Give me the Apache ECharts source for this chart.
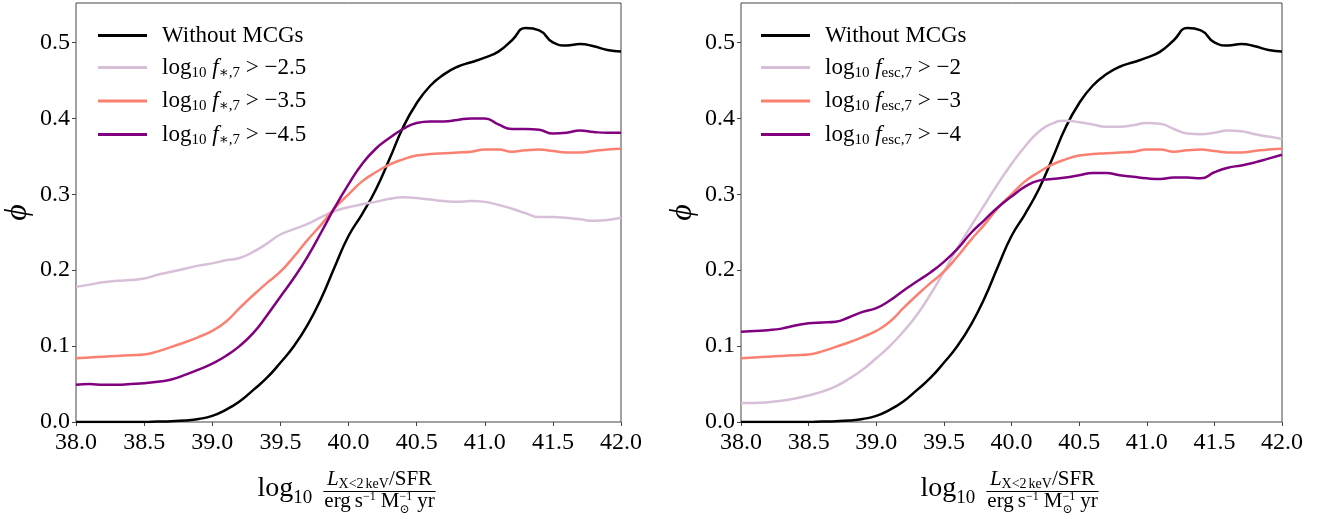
<!DOCTYPE html>
<html>
<head>
<meta charset="utf-8">
<script src="https://cdn.jsdelivr.net/npm/echarts@6/dist/echarts.min.js"></script>
<style>
  html, body { margin: 0; padding: 0; background: #fff; }
  #chart { width: 1329px; height: 520px; }
</style>
</head>
<body>
<div id="chart"></div>
<script>
// Shared x grid: log10 (L_X<2keV / SFR) in erg s^-1 Msun^-1 yr
const xs = [38.0, 38.1, 38.2, 38.3, 38.4, 38.5, 38.6, 38.7, 38.8, 38.9,
            39.0, 39.1, 39.2, 39.3, 39.4, 39.5, 39.6, 39.7, 39.8, 39.9,
            40.0, 40.1, 40.2, 40.3, 40.4, 40.5, 40.6, 40.7, 40.8, 40.9,
            41.0, 41.1, 41.2, 41.3, 41.4, 41.5, 41.6, 41.7, 41.8, 41.9, 42.0];

// Reference population without minicooling galaxies (both panels)
const withoutMCGs = [0, 0, 0, 0, 0, 0, 0.0005, 0.001, 0.002, 0.004,
  0.008, 0.016, 0.027, 0.042, 0.058, 0.078, 0.100, 0.128, 0.163, 0.205,
  0.245, 0.274, 0.306, 0.346, 0.388, 0.420, 0.443, 0.458, 0.468, 0.474,
  0.480, 0.488, 0.503, 0.519, 0.516, 0.500, 0.496, 0.498, 0.495, 0.490, 0.488];

// Left panel: cuts on log10 f_*,7
const fStarCuts = ['\u22122.5', '\u22123.5', '\u22124.5'];
const fStar25 = [0.178, 0.181, 0.184, 0.186, 0.187, 0.189, 0.194, 0.198, 0.202, 0.206,
  0.209, 0.213, 0.216, 0.224, 0.235, 0.247, 0.254, 0.261, 0.270, 0.278,
  0.283, 0.287, 0.290, 0.294, 0.296, 0.295, 0.293, 0.291, 0.290, 0.291,
  0.290, 0.286, 0.281, 0.275, 0.270, 0.270, 0.269, 0.267, 0.265, 0.266, 0.269];
const fStar35 = [0.084, 0.085, 0.086, 0.087, 0.088, 0.089, 0.093, 0.099, 0.105, 0.112,
  0.120, 0.132, 0.150, 0.167, 0.183, 0.198, 0.218, 0.240, 0.260, 0.282,
  0.300, 0.317, 0.329, 0.339, 0.346, 0.351, 0.353, 0.354, 0.355, 0.356,
  0.359, 0.359, 0.356, 0.358, 0.359, 0.357, 0.355, 0.355, 0.357, 0.359, 0.360];
const fStar45 = [0.049, 0.050, 0.049, 0.049, 0.050, 0.051, 0.053, 0.056, 0.062, 0.069,
  0.077, 0.087, 0.100, 0.117, 0.140, 0.165, 0.190, 0.218, 0.250, 0.283,
  0.313, 0.340, 0.360, 0.374, 0.386, 0.394, 0.396, 0.396, 0.398, 0.400,
  0.400, 0.392, 0.386, 0.386, 0.385, 0.380, 0.381, 0.384, 0.382, 0.381, 0.381];

// Right panel: cuts on log10 f_esc,7
const fEscCuts = ['\u22122', '\u22123', '\u22124'];
const fEsc2 = [0.025, 0.025, 0.026, 0.028, 0.031, 0.035, 0.040, 0.047, 0.057, 0.069,
  0.084, 0.100, 0.119, 0.141, 0.168, 0.198, 0.229, 0.258, 0.286, 0.314,
  0.340, 0.363, 0.382, 0.393, 0.397, 0.395, 0.392, 0.389, 0.389, 0.391,
  0.394, 0.393, 0.386, 0.380, 0.379, 0.381, 0.384, 0.383, 0.379, 0.376, 0.373];
const fEsc3 = fStar35.slice();
const fEsc4 = [0.119, 0.120, 0.121, 0.123, 0.127, 0.130, 0.131, 0.132, 0.138, 0.145,
  0.150, 0.160, 0.173, 0.185, 0.197, 0.211, 0.228, 0.249, 0.266, 0.283,
  0.297, 0.310, 0.318, 0.320, 0.322, 0.325, 0.328, 0.328, 0.325, 0.323,
  0.321, 0.320, 0.322, 0.322, 0.321, 0.329, 0.335, 0.338, 0.342, 0.347, 0.352];

const xTicks = { min: 38, max: 42, step: 0.5 };
const yTicks = { min: 0, max: 0.552, step: 0.1 };

const colors = ['#000000', '#d8bfd8', '#fa8072', '#800080'];
const SERIF = '"Liberation Serif", "DejaVu Serif", serif';

const panels = [
  { left: 76, width: 545, key: '*', cuts: fStarCuts, data: [withoutMCGs, fStar25, fStar35, fStar45], legendLeft: 98 },
  { left: 741, width: 541, key: 'esc', cuts: fEscCuts, data: [withoutMCGs, fEsc2, fEsc3, fEsc4], legendLeft: 761 }
];
const GRID_TOP = 3, GRID_H = 419;

const nameFor = (key, cut) => 'log10 f' + key + ',7 > ' + cut;

function legendRich(name) {
  const m = /^log10 f(\*|esc),7 > (.*)$/.exec(name);
  if (!m) return '{g| }{t|' + name + '}';
  const sub = m[1] === '*' ? '\u2217,7' : 'esc,7';
  return '{g| }{t|log}{s|10}{t| }{i|f}{s|' + sub + '}{t| > ' + m[2] + '}';
}
const legendRichStyles = {
  g: { width: 10 },
  t: { fontFamily: SERIF, fontSize: 23, lineHeight: 26, color: '#000' },
  i: { fontFamily: SERIF, fontSize: 23, lineHeight: 26, fontStyle: 'italic', color: '#000' },
  s: { fontFamily: SERIF, fontSize: 15, lineHeight: 12, verticalAlign: 'bottom', color: '#000' }
};

const grids = [], xAxes = [], yAxes = [], series = [], legends = [];
panels.forEach((p, gi) => {
  grids.push({ left: p.left, top: GRID_TOP, width: p.width, height: GRID_H,
    show: true, borderColor: '#444', borderWidth: 1, backgroundColor: 'transparent' });
  xAxes.push({
    gridIndex: gi, type: 'value', min: xTicks.min, max: xTicks.max, interval: xTicks.step,
    axisLine: { show: false }, splitLine: { show: false },
    axisTick: { show: true, length: 4, lineStyle: { color: '#444' } },
    axisLabel: { margin: 9, color: '#000', fontFamily: SERIF, fontSize: 24,
      formatter: v => v.toFixed(1) }
  });
  yAxes.push({
    gridIndex: gi, type: 'value', min: yTicks.min, max: yTicks.max, interval: yTicks.step,
    name: '\u03d5', nameLocation: 'middle', nameGap: 42, nameRotate: 90,
    nameTextStyle: { fontFamily: SERIF, fontSize: 32, fontStyle: 'italic', color: '#000' },
    axisLine: { show: false }, splitLine: { show: false },
    axisTick: { show: true, length: 4, lineStyle: { color: '#444' } },
    axisLabel: { margin: 6, color: '#000', fontFamily: SERIF, fontSize: 24, showMaxLabel: false,
      formatter: v => (Math.abs(v * 10 - Math.round(v * 10)) < 1e-6 ? v.toFixed(1) : '') }
  });
  const names = ['Without MCGs'].concat(p.cuts.map(c => nameFor(p.key, c)));
  names.forEach((nm, si) => {
    series.push({
      name: nm, type: 'line', xAxisIndex: gi, yAxisIndex: gi,
      data: xs.map((x, k) => [x, p.data[si][k]]),
      symbol: 'none', smooth: 0.5, z: 2 + si,
      lineStyle: { color: colors[si], width: 2.5 }, itemStyle: { color: colors[si] }
    });
  });
  legends.push({
    data: names, orient: 'vertical', left: p.legendLeft, top: 24, padding: 0,
    icon: 'rect', itemWidth: 49, itemHeight: 3, itemGap: 9, selectedMode: false,
    formatter: legendRich, textStyle: { rich: legendRichStyles }
  });
});

// x-axis title: log10 of a fraction, laid out from measured text widths
const measureCtx = document.createElement('canvas').getContext('2d');
function textWidth(t, size, italic) {
  measureCtx.font = (italic ? 'italic ' : '') + size + 'px ' + SERIF;
  return measureCtx.measureText(t).width;
}
// pieces: {t, size, dy, italic, gap, stack}; returns placed pieces + total width
function mathRow(pieces) {
  let x = 0, start = 0;
  const placed = [];
  pieces.forEach(pc => {
    const w = textWidth(pc.t, pc.size, pc.italic);
    const px = pc.stack ? start : x;
    if (!pc.stack) start = x;
    placed.push({ pc, px, w });
    x = Math.max(x, px + w) + (pc.gap || 0);
  });
  return { placed, width: x };
}
function rowElements(row, left, baseline) {
  return row.placed.map(({ pc, px }) => ({
    type: 'text', silent: true,
    style: {
      text: pc.t, x: left + px, y: baseline + (pc.dy || 0) - 0.33 * pc.size,
      fontFamily: SERIF, fontSize: pc.size, fontStyle: pc.italic ? 'italic' : 'normal',
      fill: '#000', align: 'left', verticalAlign: 'middle'
    }
  }));
}
const logRow = [
  { t: 'log', size: 28 },
  { t: '10', size: 19, dy: 6 }
];
const numRow = [
  { t: 'L', size: 21, italic: true },
  { t: 'X<2', size: 14, dy: 3, gap: 2 },
  { t: 'keV', size: 14, dy: 3 },
  { t: '/SFR', size: 21 }
];
const denRow = [
  { t: 'erg', size: 21, gap: 4 },
  { t: 's', size: 21 },
  { t: '\u22121', size: 12, dy: -7, gap: 5 },
  { t: 'M', size: 21 },
  { t: '\u2299', size: 12, dy: 6 },
  { t: '\u22121', size: 12, dy: -7, stack: true, gap: 5 },
  { t: 'yr', size: 21 }
];

const graphic = [];
panels.forEach(p => {
  const cx = p.left + p.width / 2;
  const lr = mathRow(logRow), nr = mathRow(numRow), dr = mathRow(denRow);
  const fracCx = cx + 31;
  const barW = Math.max(nr.width, dr.width) + 2;
  graphic.push(...rowElements(lr, cx - 91, 498));
  graphic.push(...rowElements(nr, fracCx - nr.width / 2, 486));
  graphic.push(...rowElements(dr, fracCx - dr.width / 2, 508));
  graphic.push({ type: 'line', silent: true,
    shape: { x1: fracCx - barW / 2, y1: 491.5, x2: fracCx + barW / 2, y2: 491.5 },
    style: { stroke: '#000', lineWidth: 1 } });
});

const chart = echarts.init(document.getElementById('chart'), null, { renderer: 'canvas' });
chart.setOption({
  animation: false,
  backgroundColor: '#fff',
  grid: grids, xAxis: xAxes, yAxis: yAxes, legend: legends, series, graphic
});
</script>
</body>
</html>
